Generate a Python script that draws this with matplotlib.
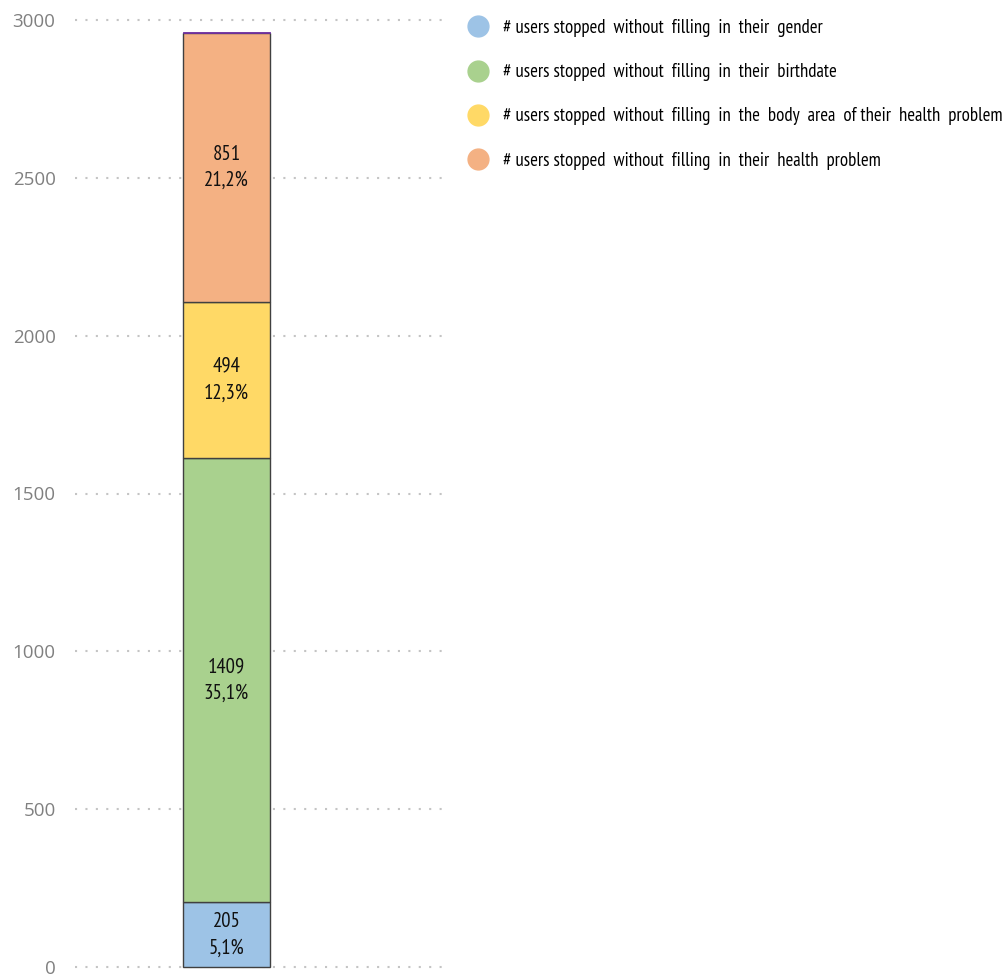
import matplotlib.pyplot as plt
from matplotlib.lines import Line2D
from matplotlib import font_manager

series = ['# users stopped  without  filling  in  their  gender',
          '# users stopped  without  filling  in  their  birthdate',
          '# users stopped  without  filling  in  the  body  area  of their  health  problem',
          '# users stopped  without  filling  in  their  health  problem']
values = [205, 1409, 494, 851]
pcts = ['5,1%', '35,1%', '12,3%', '21,2%']
colors = ['#9DC3E6', '#A9D18E', '#FFD966', '#F4B183']
top_extra = 3  # thin purple sliver at the very top
yticks = [0, 500, 1000, 1500, 2000, 2500, 3000]

# narrow font like Arial Narrow, whatever is installed
names = {f.name for f in font_manager.fontManager.ttflist}
font = 'Liberation Sans'
for cand in ['Liberation Sans Narrow', 'Arial Narrow', 'Arimo Narrow', 'PT Sans Narrow',
             'Roboto Condensed', 'Archivo Narrow']:
    if cand in names:
        font = cand
        break

fig = plt.figure(figsize=(10.08, 9.76), dpi=100)
# 0 -> pixel 967, 3000 -> pixel 20
ax = fig.add_axes([75/1008, (976-973.3)/976, 370/1008, (973.3-13.7)/976])

# size the legend font so the longest entry spans ~500 px as in the reference
renderer = fig.canvas.get_renderer()
probe = fig.text(0, 0, max(series, key=len), family=font, fontsize=12)
w = probe.get_window_extent(renderer).width
probe.remove()
leg_size = min(13.5, 12 * 500 / w)
lab_size = leg_size * 1.1

bottom = 0
for v, c, p in zip(values, colors, pcts):
    ax.bar(0, v, bottom=bottom, width=1, color=c, edgecolor='#404040', linewidth=1, zorder=3)
    ax.text(0, bottom + v/2, f'{v}\n{p}', ha='center', va='center', fontsize=lab_size,
            family=font, color='#111111', linespacing=1.5, zorder=4)
    bottom += v
ax.bar(0, top_extra, bottom=bottom, width=1, color='#7030A0', edgecolor='#7030A0', linewidth=0.6, zorder=3)

ax.set_xlim(-1.741, 2.511)
ax.set_ylim(-20, 3020)
ax.set_yticks(yticks)
ax.set_xticks([])
for s in ax.spines.values():
    s.set_visible(False)
ax.tick_params(axis='y', length=0, pad=14, labelsize=13.5, labelcolor='#808080')
for lab in ax.get_yticklabels():
    lab.set_family('Open Sans')
ax.yaxis.grid(True, linestyle=(0, (1, 4)), color='#C4C4C4', linewidth=1.5, zorder=0)

fs_px = leg_size * 100 / 72
handles = [Line2D([], [], marker='o', linestyle='', markersize=15, markerfacecolor=c,
                  markeredgecolor=c) for c in colors]
fig.legend(handles, series, loc='upper left', bbox_to_anchor=(467/1008, 1 - 19/976),
           frameon=False, prop={'family': font, 'size': leg_size},
           labelspacing=(44 - 0.95 * fs_px) / fs_px,
           handletextpad=(503 - 467 - 1.2 * fs_px) / fs_px, handlelength=1.2,
           borderaxespad=0, borderpad=0)

fig.savefig('out.png', dpi=100)
